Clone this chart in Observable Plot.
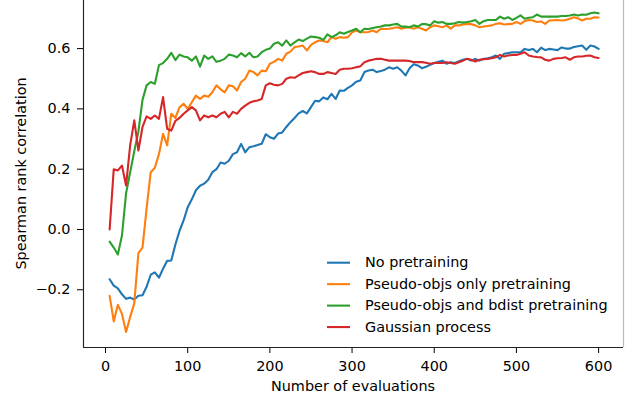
<!DOCTYPE html>
<html><head><meta charset="utf-8">
<script src="https://cdn.jsdelivr.net/npm/d3@7"></script>
<script src="https://cdn.jsdelivr.net/npm/@observablehq/plot@0.6"></script>
<style>html,body{margin:0;padding:0;background:#fff;} #chart svg{display:block}</style>
</head><body><div id="chart"></div>
<script>
const seriesNames = ["No pretraining", "Pseudo-objs only pretraining", "Pseudo-objs and bdist pretraining", "Gaussian process"];
const seriesColors = ["#1f77b4", "#ff7f0e", "#2ca02c", "#d62728"];
const evaluations = d3.range(5, 601, 5);

const noPretraining = [
 -0.165, -0.186, -0.195, -0.215, -0.230, -0.226, -0.232, -0.220, -0.218, -0.190,
 -0.150, -0.142, -0.160, -0.130, -0.104, -0.103, -0.050, -0.005, 0.030, 0.074,
 0.100, 0.130, 0.145, 0.152, 0.165, 0.190, 0.200, 0.222, 0.218, 0.228,
 0.250, 0.256, 0.284, 0.256, 0.273, 0.276, 0.280, 0.284, 0.316, 0.306,
 0.301, 0.318, 0.322, 0.340, 0.356, 0.370, 0.385, 0.393, 0.385, 0.406,
 0.427, 0.425, 0.438, 0.432, 0.450, 0.433, 0.461, 0.460, 0.470, 0.478,
 0.490, 0.494, 0.522, 0.527, 0.530, 0.522, 0.526, 0.530, 0.538, 0.533,
 0.538, 0.527, 0.511, 0.535, 0.548, 0.544, 0.535, 0.540, 0.546, 0.552,
 0.556, 0.560, 0.550, 0.555, 0.552, 0.558, 0.563, 0.566, 0.560, 0.566,
 0.560, 0.566, 0.568, 0.571, 0.577, 0.566, 0.583, 0.585, 0.588, 0.588,
 0.588, 0.599, 0.595, 0.599, 0.588, 0.603, 0.595, 0.599, 0.597, 0.595,
 0.604, 0.600, 0.600, 0.605, 0.608, 0.610, 0.596, 0.610, 0.607, 0.599
];
const pseudoOnly = [
 -0.220, -0.305, -0.250, -0.280, -0.340, -0.290, -0.245, -0.078, -0.060, 0.070,
 0.190, 0.205, 0.250, 0.317, 0.279, 0.384, 0.370, 0.405, 0.417, 0.400,
 0.422, 0.444, 0.433, 0.444, 0.440, 0.455, 0.478, 0.465, 0.455, 0.478,
 0.475, 0.461, 0.489, 0.500, 0.527, 0.522, 0.511, 0.527, 0.525, 0.550,
 0.556, 0.566, 0.560, 0.583, 0.590, 0.605, 0.607, 0.610, 0.594, 0.612,
 0.621, 0.627, 0.625, 0.621, 0.638, 0.633, 0.638, 0.636, 0.638, 0.654,
 0.660, 0.654, 0.654, 0.655, 0.660, 0.654, 0.666, 0.665, 0.666, 0.668,
 0.671, 0.666, 0.669, 0.671, 0.666, 0.671, 0.666, 0.660, 0.671, 0.677,
 0.674, 0.671, 0.677, 0.666, 0.677, 0.677, 0.680, 0.682, 0.681, 0.677,
 0.671, 0.673, 0.675, 0.677, 0.682, 0.684, 0.680, 0.681, 0.682, 0.688,
 0.682, 0.691, 0.695, 0.693, 0.688, 0.690, 0.682, 0.693, 0.694, 0.695,
 0.693, 0.695, 0.699, 0.704, 0.700, 0.693, 0.699, 0.699, 0.704, 0.703
];
const pseudoBdist = [
 -0.040, -0.060, -0.083, -0.020, 0.120, 0.190, 0.260, 0.325, 0.430, 0.478,
 0.489, 0.483, 0.545, 0.552, 0.566, 0.586, 0.562, 0.580, 0.574, 0.571,
 0.560, 0.574, 0.540, 0.577, 0.566, 0.574, 0.556, 0.560, 0.566, 0.580,
 0.577, 0.571, 0.585, 0.574, 0.586, 0.571, 0.574, 0.588, 0.596, 0.600,
 0.616, 0.621, 0.610, 0.627, 0.610, 0.621, 0.630, 0.625, 0.633, 0.640,
 0.638, 0.636, 0.629, 0.647, 0.638, 0.644, 0.654, 0.649, 0.655, 0.660,
 0.666, 0.654, 0.666, 0.665, 0.668, 0.671, 0.673, 0.677, 0.677, 0.680,
 0.682, 0.673, 0.673, 0.671, 0.677, 0.673, 0.681, 0.681, 0.677, 0.691,
 0.686, 0.688, 0.682, 0.682, 0.684, 0.688, 0.686, 0.688, 0.691, 0.695,
 0.682, 0.691, 0.695, 0.695, 0.695, 0.706, 0.699, 0.704, 0.695, 0.702,
 0.710, 0.699, 0.702, 0.704, 0.713, 0.706, 0.706, 0.706, 0.706, 0.706,
 0.708, 0.708, 0.710, 0.713, 0.710, 0.713, 0.712, 0.717, 0.720, 0.717
];
const gaussianProcess = [
 0.000, 0.200, 0.196, 0.212, 0.146, 0.280, 0.362, 0.262, 0.340, 0.375,
 0.367, 0.378, 0.367, 0.439, 0.334, 0.328, 0.360, 0.370, 0.384, 0.395,
 0.406, 0.395, 0.362, 0.378, 0.372, 0.378, 0.372, 0.384, 0.390, 0.372,
 0.390, 0.384, 0.400, 0.411, 0.420, 0.425, 0.428, 0.433, 0.478, 0.485,
 0.480, 0.478, 0.483, 0.500, 0.505, 0.503, 0.511, 0.519, 0.522, 0.525,
 0.522, 0.516, 0.516, 0.522, 0.519, 0.516, 0.530, 0.533, 0.533, 0.535,
 0.538, 0.541, 0.555, 0.560, 0.563, 0.566, 0.566, 0.563, 0.560, 0.560,
 0.560, 0.560, 0.560, 0.559, 0.555, 0.555, 0.555, 0.553, 0.550, 0.552,
 0.552, 0.552, 0.555, 0.552, 0.550, 0.555, 0.560, 0.566, 0.563, 0.557,
 0.563, 0.565, 0.566, 0.568, 0.571, 0.579, 0.574, 0.577, 0.579, 0.579,
 0.583, 0.588, 0.577, 0.574, 0.572, 0.571, 0.563, 0.560, 0.566, 0.568,
 0.569, 0.571, 0.563, 0.571, 0.574, 0.574, 0.576, 0.577, 0.571, 0.569
];
const xTicks = [0, 100, 200, 300, 400, 500, 600];
const yTicks = [-0.2, 0.0, 0.2, 0.4, 0.6];
const xLabel = "Number of evaluations";
const yLabel = "Spearman rank correlation";

const allSeries = [noPretraining, pseudoOnly, pseudoBdist, gaussianProcess];
const data = [];
allSeries.forEach((vals, k) => vals.forEach((v, i) => data.push({x: evaluations[i], y: v, s: seriesNames[k]})));

const W = 629, H = 397, mL = 83, mR = 6, mT = 0, mB = 50;
const xDomain = [-26.8, 630.3];
const yDomain = [-0.3914, 0.7595];
const FONT = "DejaVu Sans";

const chart = Plot.plot({
  width: W, height: H,
  marginLeft: mL, marginRight: mR, marginTop: mT, marginBottom: mB,
  style: {fontFamily: FONT, fontSize: "14.4px", color: "#000", background: "#fff"},
  x: {domain: xDomain, ticks: xTicks, tickSize: 6, tickPadding: 7, label: null, tickFormat: d3.format("d")},
  y: {domain: yDomain, ticks: yTicks, tickSize: 6, tickPadding: 7, label: null, tickFormat: d3.format(".1f")},
  color: {domain: seriesNames, range: seriesColors},
  marks: [
    Plot.line(data, {x: "x", y: "y", z: "s", stroke: "s", strokeWidth: 2.1}),
    Plot.ruleX([xDomain[1]], {stroke: "#bbb", strokeWidth: 1.2}),
    Plot.ruleX([xDomain[0]], {stroke: "#222", strokeWidth: 1.15}),
    Plot.ruleY([yDomain[0]], {stroke: "#222", strokeWidth: 1.15})
  ]
});
document.getElementById("chart").appendChild(chart);

const svg = d3.select(chart);
// axis labels
svg.append("text").attr("x", (mL + W - mR) / 2).attr("y", 391)
  .attr("text-anchor", "middle").attr("font-family", FONT).attr("font-size", 14.4).attr("fill", "#000")
  .text(xLabel);
svg.append("text").attr("transform", `translate(25.5,${(mT + H - mB) / 2}) rotate(-90)`)
  .attr("text-anchor", "middle").attr("font-family", FONT).attr("font-size", 14.4).attr("fill", "#000")
  .text(yLabel);

// legend
const lg = svg.append("g").attr("text-anchor", "start");
seriesNames.forEach((name, i) => {
  const y = 262.7 + i * 21.45;
  lg.append("line").attr("x1", 327).attr("x2", 350).attr("y1", y).attr("y2", y)
    .attr("stroke", seriesColors[i]).attr("stroke-width", 2.1);
  lg.append("text").attr("x", 365).attr("y", y).attr("dy", "0.32em").attr("text-anchor", "start")
    .attr("font-family", FONT).attr("font-size", 14.4).attr("fill", "#000").text(name);
});
</script>
</body></html>
